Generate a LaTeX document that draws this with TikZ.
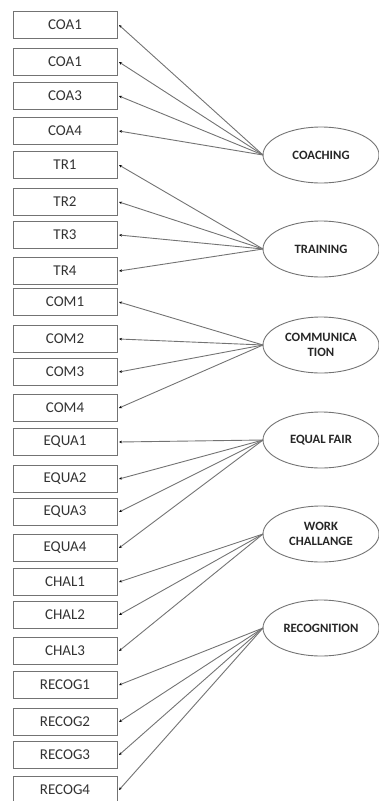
\documentclass[tikz,border=0pt]{standalone}
\usepackage{fontspec}
\setmainfont{Carlito}
\usetikzlibrary{arrows.meta}
\usetikzlibrary{shapes.geometric}
\definecolor{lg}{rgb}{.45,.45,.45}
\definecolor{tx}{rgb}{.2,.2,.2}
\tikzstyle{item}=[rectangle, draw=lg, line width=.9pt, minimum width=104pt, minimum height=27pt, inner sep=0pt, outer sep=2pt, text=tx, font=\fontsize{15}{18}\selectfont]
\tikzstyle{factor}=[ellipse, draw=lg, line width=.9pt, minimum width=116pt, minimum height=56pt, inner sep=0pt, outer sep=0pt, text=black!85, align=center, font=\bfseries\fontsize{12.7}{15.5}\selectfont]
\tikzstyle{load}=[draw=lg, line width=.9pt, -{Stealth[length=3pt, width=2.6pt, black]}]

\begin{document}
\begin{tikzpicture}[x=1pt, y=-1pt]
      \useasboundingbox (0,0) rectangle (379,801);

      \node[item] (coa1) at (65,25) {COA1};
      \node[item] (coa2) at (65,62) {COA1};
      \node[item] (coa3) at (65,96) {COA3};
      \node[item] (coa4) at (65,131) {COA4};

      \node[item] (tr1) at (65,165) {TR1};
      \node[item] (tr2) at (65,202) {TR2};
      \node[item] (tr3) at (65,235) {TR3};
      \node[item] (tr4) at (65,271) {TR4};

      \node[item] (com1) at (65,302) {COM1};
      \node[item] (com2) at (65,339) {COM2};
      \node[item] (com3) at (65,372) {COM3};
      \node[item] (com4) at (65,408) {COM4};

      \node[item] (equa1) at (65,442) {EQUA1};
      \node[item] (equa2) at (65,479) {EQUA2};
      \node[item] (equa3) at (65,512) {EQUA3};
      \node[item] (equa4) at (65,548) {EQUA4};

      \node[item] (chal1) at (65,582) {CHAL1};
      \node[item] (chal2) at (65,615) {CHAL2};
      \node[item] (chal3) at (65,651) {CHAL3};

      \node[item] (recog1) at (65,685) {RECOG1};
      \node[item] (recog2) at (65,722) {RECOG2};
      \node[item] (recog3) at (65,755) {RECOG3};
      \node[item] (recog4) at (65,790) {RECOG4};

      \node[factor] (coaching) at (321,155) {COACHING};
      \node[factor] (training) at (321,249) {TRAINING};
      \node[factor] (communication) at (321,345) {COMMUNICA\\TION};
      \node[factor] (equalfair) at (321,440) {EQUAL FAIR};
      \node[factor] (workchal) at (321,534) {WORK\\CHALLANGE};
      \node[factor] (recognition) at (321,628) {RECOGNITION};

      % coaching
      \foreach \p in {coa1, coa2, coa3, coa4}
        \draw[load] (coaching.west) -- (\p.east);
      % training
      \foreach \p in {tr1, tr2, tr3, tr4}
        \draw[load] (training.west) -- (\p.east);
      % communication
      \foreach \p in {com1, com2, com3, com4}
        \draw[load] (communication.west) -- (\p.east);
      % equal fair
      \foreach \p in {equa1, equa2, equa3, equa4}
        \draw[load] (equalfair.west) -- (\p.east);
      % work challange
      \foreach \p in {chal1, chal2, chal3}
        \draw[load] (workchal.west) -- (\p.east);
      % recognition
      \foreach \p in {recog1, recog2, recog3, recog4}
        \draw[load] (recognition.west) -- (\p.east);

\end{tikzpicture}
\end{document}
